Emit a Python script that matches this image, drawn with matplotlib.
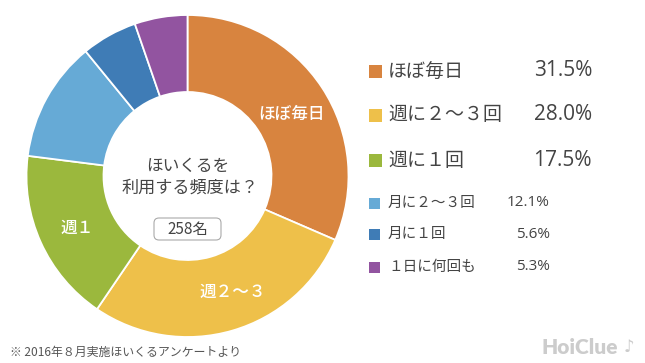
import matplotlib
matplotlib.use("Agg")
import matplotlib.pyplot as plt
from matplotlib.patches import Rectangle, FancyBboxPatch

plt.rcParams['font.family'] = ['Noto Sans CJK JP', 'DejaVu Sans']

categories = ["ほぼ毎日", "週に２〜３回", "週に１回", "月に２〜３回", "月に１回", "１日に何回も"]
values = [31.5, 28.0, 17.5, 12.1, 5.6, 5.3]
pct_labels = ["31.5%", "28.0%", "17.5%", "12.1%", "5.6%", "5.3%"]
colors = ["#D8843F", "#EEC04A", "#9BB83D", "#66AAD6", "#3F7CB6", "#9254A0"]
slice_labels = ["ほぼ毎日", "週２〜３", "週１"]

W, H = 645, 363
fig = plt.figure(figsize=(W / 100, H / 100), dpi=100)
ax = fig.add_axes([0, 0, 1, 1])
ax.set_xlim(0, W)
ax.set_ylim(0, H)
ax.set_aspect('equal')
ax.axis('off')

def Y(y):
    return H - y

cx, cy, R, r_in = 187.5, 176, 161, 84
ax.pie(values, colors=colors, startangle=90, counterclock=False,
       center=(cx, Y(cy)), radius=R, frame=True,
       wedgeprops=dict(width=R - r_in, edgecolor='white', linewidth=1.3))
ax.set_xlim(0, W)
ax.set_ylim(0, H)
ax.axis('off')

# slice labels
ax.text(292, Y(114), slice_labels[0], color='white', fontsize=12, ha='center', va='center', fontweight='medium')
ax.text(233, Y(292), slice_labels[1], color='white', fontsize=12, ha='center', va='center', fontweight='medium')
ax.text(77, Y(228), slice_labels[2], color='white', fontsize=12, ha='center', va='center', fontweight='medium')

# center text
ax.text(cx, Y(166), "ほいくるを", color='#444444', fontsize=12, ha='center', va='center')
ax.text(cx + 3, Y(188), "利用する頻度は？", color='#444444', fontsize=12.3, ha='center', va='center')
box = FancyBboxPatch((154, Y(240)), 67, 22, boxstyle="round,pad=0,rounding_size=5",
                     facecolor='white', edgecolor='#AAAAAA', linewidth=0.8)
ax.add_patch(box)
ax.text(187.5, Y(229.5), "258名", color='#444444', fontsize=11, ha='center', va='center')

# legend
rows_y = [71, 115, 160, 203, 234, 267]
for i, (cat, pct, col, y) in enumerate(zip(categories, pct_labels, colors, rows_y)):
    big = i < 3
    s = 13 if big else 11
    ax.add_patch(Rectangle((369, Y(y) - s / 2), s, s, facecolor=col, edgecolor='none'))
    ax.text(388, Y(y), cat, color='#444444', fontsize=13.7 if big else 10.5,
            ha='left', va='center')
    ax.text(592 if big else 550, Y(y), pct, color='#444444',
            fontsize=15 if big else 11, ha='right', va='center',
            family=['Open Sans', 'DejaVu Sans'], fontweight='normal')

# footer
ax.text(10, Y(352), "※ 2016年８月実施ほいくるアンケートより", color='#555555',
        fontsize=8.6, ha='left', va='center')
ax.text(580, Y(347), "HoiClue", color='#CCCCCC', fontsize=15, fontweight='heavy',
        ha='center', va='center', family=['Lato', 'DejaVu Sans'])
ax.text(629, Y(347), "♪", color='#CCCCCC', fontsize=12, fontweight='bold',
        ha='center', va='center', family=['DejaVu Sans'])

fig.savefig("out.png", dpi=100)
